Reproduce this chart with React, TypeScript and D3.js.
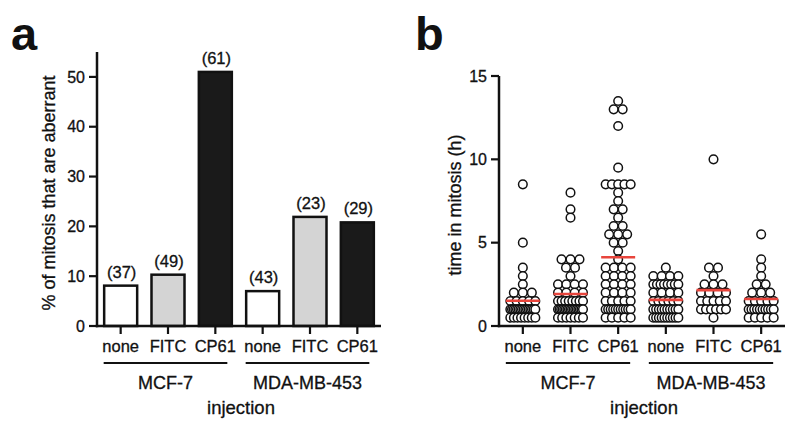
import React from "react";
import * as d3 from "d3";

const treatments = ["none", "FITC", "CP61", "none", "FITC", "CP61"];
const cellLines = ["MCF-7", "MDA-MB-453"];
const aberrantPct = [8.1, 10.3, 51.0, 7.0, 21.9, 20.8];
const counts = [37, 49, 61, 43, 23, 29];
const barFills = ["#ffffff", "#d4d4d4", "#1a1a1a", "#ffffff", "#d4d4d4", "#1a1a1a"];
const pctTicks = [0, 10, 20, 30, 40, 50];
const timeTicks = [0, 5, 10, 15];

const mcf7None = [8.5, 5, 3.5, 3, 2.5, 2, 2, 2, 1.5, 1.5, 1.5, 1.5, 1.5,
  1, 1, 1, 1, 1, 1, 1, 1, 1, 1, 1, 1, 1, 1, 1, 1,
  0.5, 0.5, 0.5, 0.5, 0.5, 0.5, 0.5, 0.5];
const mcf7Fitc = [8, 7, 6.5, 4, 4, 4, 3.5, 3.5, 3, 2.5, 2.5, 2.5, 2.5, 2, 2, 2, 2,
  1.5, 1.5, 1.5, 1.5, 1.5, 1.5, 1.5, 1.5,
  1, 1, 1, 1, 1, 1, 1, 1, 1, 1, 1, 1, 1, 1, 1, 1, 1,
  0.5, 0.5, 0.5, 0.5, 0.5, 0.5, 0.5];
const mcf7Cp61 = [13.5, 13, 13, 12, 9.5, 8.5, 8.5, 8.5, 8.5, 8.5, 8, 7.5, 7, 7, 6.5, 6, 6,
  5.5, 5.5, 5.5, 5, 5, 4.5, 4, 3.5, 3.5, 3.5, 3.5, 3, 3, 3, 3, 2.5, 2.5, 2.5, 2.5,
  2, 2, 2, 2, 1.5, 1.5, 1.5, 1.5, 1.5, 1, 1, 1, 1, 1, 1, 1, 1, 1, 1, 1,
  0.5, 0.5, 0.5, 0.5, 0.5];
const mdaNone = [3.5, 3, 3, 3, 3, 2.5, 2.5, 2.5, 2.5, 2.5, 2.5, 2.5, 2.5, 2, 2, 2, 2,
  1.5, 1.5, 1.5, 1.5, 1.5, 1.5, 1, 1, 1, 1, 1, 1, 1, 1, 1, 1,
  0.5, 0.5, 0.5, 0.5, 0.5, 0.5, 0.5, 0.5, 0.5, 0.5];
const mdaFitc = [10, 3.5, 3.5, 3, 2.5, 2.5, 2.5, 2, 2, 2, 2, 1.5, 1.5, 1.5, 1.5, 1.5,
  1, 1, 1, 1, 1, 1, 0.5];
const mdaCp61 = [5.5, 4, 3.5, 3, 2.5, 2.5, 2, 2, 2, 1.5, 1.5, 1.5, 1.5, 1.5,
  1, 1, 1, 1, 1, 1, 1, 1, 1, 1, 0.5, 0.5, 0.5, 0.5, 0.5];
const timeGroups = [mcf7None, mcf7Fitc, mcf7Cp61, mdaNone, mdaFitc, mdaCp61];

const FONT = "'Liberation Sans', Arial, Helvetica, sans-serif";
const W = 800;
const H = 434;
const INK = "#111";

function swarm(values: number[]) {
  const bins = d3.group(values, (v) => v);
  const out: { v: number; dx: number }[] = [];
  bins.forEach((arr, v) => {
    const n = arr.length;
    const sp = n > 1 ? Math.min(9, 25 / (n - 1)) : 0;
    arr.forEach((_, i) => out.push({ v, dx: (i - (n - 1) / 2) * sp }));
  });
  return out;
}

function Axes({ x, y, ticks, yTitle, titleX, x0, x1 }: any) {
  const idx = d3.range(6);
  return (
    <g fontFamily={FONT} fill={INK} stroke={INK} strokeWidth={0.3}>
      <line x1={x0} x2={x0} y1={y.range()[1]} y2={y(0) + 1.2} stroke={INK} strokeWidth={2.5} />
      <line x1={x0 - 1.2} x2={x1} y1={y(0)} y2={y(0)} stroke={INK} strokeWidth={2.5} />
      {ticks.map((t: number) => (
        <g key={t}>
          <line x1={x0 - 8} x2={x0} y1={y(t)} y2={y(t)} stroke={INK} strokeWidth={2.2} />
          <text x={x0 - 12} y={y(t)} dy="0.35em" textAnchor="end" fontSize={16}>{t}</text>
        </g>
      ))}
      {idx.map((i) => (
        <g key={i}>
          <line x1={x(i)} x2={x(i)} y1={y(0)} y2={y(0) + 8} stroke={INK} strokeWidth={2.2} />
          <text x={x(i)} y={352} textAnchor="middle" fontSize={16.5}>{treatments[i]}</text>
        </g>
      ))}
      {cellLines.map((c, g) => {
        const a = x(g * 3) - 17;
        const b = x(g * 3 + 2) + 12;
        return (
          <g key={c}>
            <line x1={a} x2={b} y1={363} y2={363} stroke={INK} strokeWidth={2} />
            <text x={(a + b) / 2} y={389} textAnchor="middle" fontSize={18}>{c}</text>
          </g>
        );
      })}
      <text x={(x0 + x1) / 2 + 2} y={414} textAnchor="middle" fontSize={18.5}>injection</text>
      <text transform={`translate(${titleX},${(y.range()[0] + y.range()[1]) / 2 + 4}) rotate(-90)`} textAnchor="middle" fontSize={18}>{yTitle}</text>
    </g>
  );
}

export default function App() {
  const idx = d3.range(6);
  const xa = d3.scalePoint<number>().domain(idx).range([97, 381]).padding(0.5);
  const ya = d3.scaleLinear().domain([0, 55]).range([326, 52]);
  const xb = d3.scalePoint<number>().domain(idx).range([499, 785]).padding(0.5);
  const yb = d3.scaleLinear().domain([0, 15]).range([326, 76]);
  const barW = 33;

  return (
    <svg width={W} height={H} style={{ position: "absolute", left: 0, top: 0, background: "#fff" }}>
      <rect width={W} height={H} fill="#fff" />
      <text x={11} y={50} fontFamily={FONT} fontWeight="bold" fontSize={47} fill={INK}>a</text>
      <text x={415} y={50} fontFamily={FONT} fontWeight="bold" fontSize={47} fill={INK}>b</text>

      {/* panel a */}
      {idx.map((i) => (
        <g key={i}>
          <rect x={xa(i)! - barW / 2} y={ya(aberrantPct[i])} width={barW} height={ya(0) - ya(aberrantPct[i])}
            fill={barFills[i]} stroke={INK} strokeWidth={2.5} />
          <text x={xa(i)! + 1} y={ya(aberrantPct[i]) - 8} textAnchor="middle" fontFamily={FONT} fontSize={16.5}
            fill={INK} stroke={INK} strokeWidth={0.3}>
            ({counts[i]})
          </text>
        </g>
      ))}
      <Axes x={xa} y={ya} ticks={pctTicks} yTitle="% of mitosis that are aberrant" titleX={55} x0={97} x1={381} />

      {/* panel b */}
      {timeGroups.map((vals, i) => {
        const pts = swarm(vals);
        const mean = d3.mean(vals)!;
        return (
          <g key={i}>
            {pts.map((p, j) => (
              <circle key={j} cx={xb(i)! + p.dx} cy={yb(p.v)} r={4.3} fill="#fff" stroke={INK} strokeWidth={1.5} />
            ))}
            <line x1={xb(i)! - 17} x2={xb(i)! + 17} y1={yb(mean)} y2={yb(mean)} stroke="#e8453c" strokeWidth={2.6} />
          </g>
        );
      })}
      <Axes x={xb} y={yb} ticks={timeTicks} yTitle="time in  mitosis (h)" titleX={461} x0={499} x1={785} />
    </svg>
  );
}
